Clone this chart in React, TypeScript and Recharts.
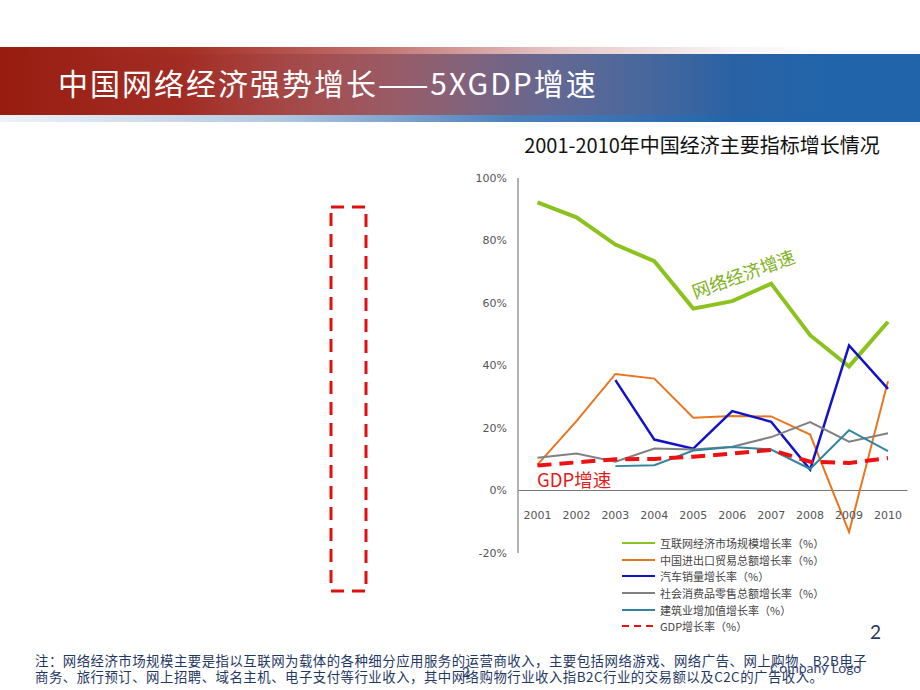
import {
  LineChart,
  Line,
  XAxis,
  YAxis,
  ReferenceLine,
} from "recharts";

const years = ["2001", "2002", "2003", "2004", "2005", "2006", "2007", "2008", "2009", "2010"];

// 各指标增长率 (%)
const internetGrowth = [92.2, 87.4, 78.7, 73.4, 58.2, 60.6, 66.2, 49.7, 39.7, 54];
const tradeGrowth = [8.3, 22.2, 37.3, 35.8, 23.3, 23.8, 23.7, 17.9, -13.3, 35];
const autoGrowth = [null, null, 35.3, 16.3, 13.4, 25.4, 22, 6.7, 46.4, 32.5];
const retailGrowth = [10.5, 11.8, 9.2, 13.4, 13.1, 14, 17.1, 21.9, 15.6, 18.3];
const buildGrowth = [null, null, 7.8, 8.1, 12.8, 13.9, 13.1, 6.9, 19.3, 12.6];
const gdpGrowth = [8, 9, 10, 10.1, 10.8, 11.8, 13, 9.2, 8.8, 10.4];

const yTicks = [-20, 0, 20, 40, 60, 80, 100];

const series = [
  { key: "internet", name: "互联网经济市场规模增长率（%）", color: "#8cc21e", width: 4, dash: undefined },
  { key: "trade", name: "中国进出口贸易总额增长率（%）", color: "#e8761e", width: 2, dash: undefined },
  { key: "auto", name: "汽车销量增长率（%）", color: "#1212cc", width: 2.5, dash: undefined },
  { key: "retail", name: "社会消费品零售总额增长率（%）", color: "#808080", width: 2, dash: undefined },
  { key: "build", name: "建筑业增加值增长率（%）", color: "#31859c", width: 2, dash: undefined },
  { key: "gdp", name: "GDP增长率（%）", color: "#ee1111", width: 4, dash: "14 8" },
];

const data = years.map((y, i) => ({
  year: y,
  internet: internetGrowth[i],
  trade: tradeGrowth[i],
  auto: autoGrowth[i],
  retail: retailGrowth[i],
  build: buildGrowth[i],
  gdp: gdpGrowth[i],
}));

const cjk = '"Noto Sans CJK SC", "Noto Sans", sans-serif';
const navy = "#1f3864";

function YearTick(props: any) {
  const { x, y, payload } = props;
  return (
    <text
      x={x}
      y={y}
      dy={-45}
      textAnchor="middle"
      dominantBaseline="middle"
      fill="#555"
      fontSize={11}
      fontFamily="DejaVu Sans"
    >
      {payload.value}
    </text>
  );
}

function LegendBox() {
  return (
    <div style={{ fontFamily: cjk, fontSize: 11, color: "#444" }}>
      {series.map((s) => (
        <div key={s.key} style={{ display: "flex", alignItems: "center", height: 16.6 }}>
          <svg width={38} height={6}>
            <line
              x1={0}
              x2={33}
              y1={3}
              y2={3}
              stroke={s.color}
              strokeWidth={2}
              strokeDasharray={s.dash ? "7 5" : undefined}
            />
          </svg>
          <span>{s.name}</span>
        </div>
      ))}
    </div>
  );
}

export default function App() {
  return (
    <div
      style={{
        position: "absolute",
        left: 0,
        top: 0,
        width: 920,
        height: 690,
        background: "#fff",
        overflow: "hidden",
        fontFamily: cjk,
      }}
    >
      {/* 标题栏 */}
      <div
        style={{
          position: "absolute",
          left: 0,
          top: 54,
          width: 920,
          height: 68,
          background:
            "linear-gradient(to right, rgba(34,98,170,0.08) 0%, rgba(34,98,170,0.35) 30%, rgba(34,98,170,0.8) 55%, rgba(34,100,170,1) 80%)",
        }}
      />
      <div
        style={{
          position: "absolute",
          left: 0,
          top: 47,
          width: 920,
          height: 68,
          background:
            "linear-gradient(to right, rgba(152,28,16,1) 0%, rgba(160,35,25,0.95) 20%, rgba(165,50,45,0.7) 40%, rgba(170,60,60,0.3) 60%, rgba(170,60,60,0.05) 80%, rgba(170,60,60,0) 90%)",
        }}
      />
      <div
        style={{
          position: "absolute",
          left: 58,
          top: 61,
          color: "#fff",
          fontSize: 30,
          lineHeight: "42px",
          letterSpacing: 2,
          whiteSpace: "nowrap",
        }}
      >
        中国网络经济强势增长——5XGDP增速
      </div>

      {/* 左侧红色虚线框 */}
      <svg style={{ position: "absolute", left: 326, top: 202 }} width={46} height={395}>
        <rect x={5} y={5} width={35} height={384} fill="none" stroke="#e01010" strokeWidth={3} strokeDasharray="13 8" />
      </svg>

      {/* 图表标题 */}
      <div
        style={{
          position: "absolute",
          left: 460,
          width: 484,
          top: 131,
          textAlign: "center",
          fontSize: 20,
          lineHeight: "28px",
          color: "#111",
          whiteSpace: "nowrap",
        }}
      >
        2001-2010年中国经济主要指标增长情况
      </div>

      <div style={{ position: "absolute", left: 460, top: 160 }}>
        <LineChart width={460} height={480} data={data} margin={{ top: 18, right: 12.5, left: 0, bottom: 57 }}>
          <XAxis
            dataKey="year"
            axisLine={false}
            tickLine={false}
            height={30}
            tick={<YearTick />}
            interval={0}
            padding={{ left: 19.5, right: 19.5 }}
          />
          <YAxis
            domain={[-20, 100]}
            ticks={yTicks}
            width={58}
            axisLine={{ stroke: "#999", strokeWidth: 1.5 }}
            tickLine={false}
            tickMargin={5}
            tickFormatter={(v: number) => `${v}%`}
            tick={{ fill: "#555", fontSize: 11, fontFamily: "DejaVu Sans" }}
          />
          <ReferenceLine y={0} stroke="#777" strokeWidth={1} />
          {series.map((s) => (
            <Line
              key={s.key}
              type="linear"
              dataKey={s.key}
              name={s.name}
              stroke={s.color}
              strokeWidth={s.width}
              strokeDasharray={s.dash}
              dot={false}
              activeDot={false}
              connectNulls={false}
              isAnimationActive={false}
            />
          ))}
        </LineChart>
      </div>

      {/* 图例 */}
      <div style={{ position: "absolute", left: 622, top: 535 }}>
        <LegendBox />
      </div>

      {/* 标注 */}
      <div
        style={{
          position: "absolute",
          left: 743,
          top: 273,
          transform: "translate(-50%, -50%) rotate(-20deg)",
          color: "#7fb21c",
          fontSize: 18,
          whiteSpace: "nowrap",
        }}
      >
        网络经济增速
      </div>
      <div
        style={{
          position: "absolute",
          left: 537,
          top: 466,
          color: "#e31b1b",
          fontSize: 18.5,
          lineHeight: "26px",
          whiteSpace: "nowrap",
        }}
      >
        GDP增速
      </div>

      {/* 页码 */}
      <div style={{ position: "absolute", left: 870, top: 620, fontSize: 19, color: navy, fontFamily: "Lato" }}>2</div>

      {/* 注释 */}
      <div
        style={{
          position: "absolute",
          left: 35,
          top: 652,
          fontSize: 13.4,
          lineHeight: "16px",
          letterSpacing: 0.5,
          color: navy,
          whiteSpace: "nowrap",
        }}
      >
        <div>注：网络经济市场规模主要是指以互联网为载体的各种细分应用服务的运营商收入，主要包括网络游戏、网络广告、网上购物、B2B电子</div>
        <div>商务、旅行预订、网上招聘、域名主机、电子支付等行业收入，其中网络购物行业收入指B2C行业的交易额以及C2C的广告收入。</div>
      </div>
      <div style={{ position: "absolute", left: 462, top: 664, fontSize: 13, color: navy, fontFamily: "Lato" }}>2</div>
      <div style={{ position: "absolute", left: 770, top: 659, fontSize: 14, color: "#3b4a78", fontFamily: "Lato" }}>
        Company Logo
      </div>
    </div>
  );
}
